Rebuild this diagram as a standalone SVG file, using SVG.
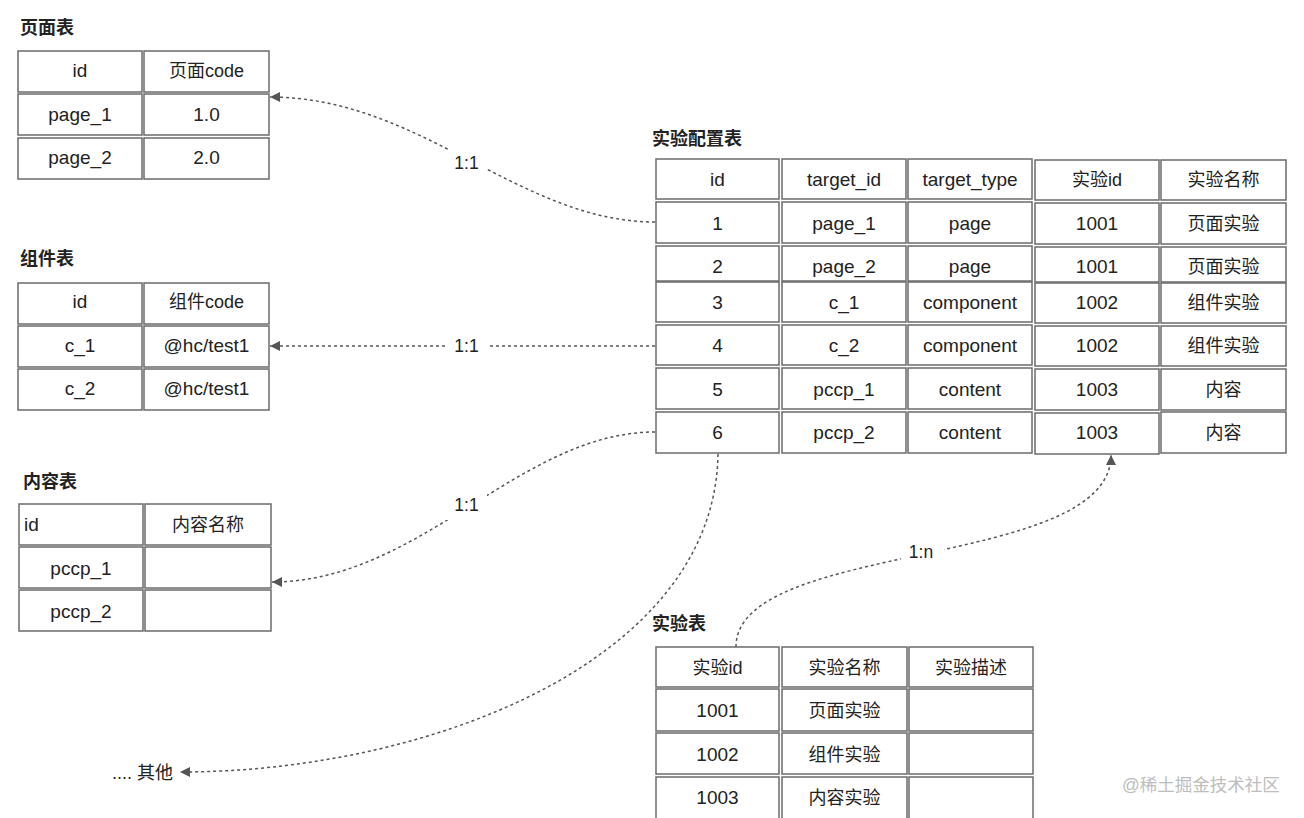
<svg xmlns="http://www.w3.org/2000/svg" width="1304" height="818" viewBox="0 0 1304 818">
<style>
  text { font-family: "Liberation Sans", "Noto Sans CJK SC", sans-serif; fill: #222; }
  .t { font-size: 18px; text-anchor: middle; }
  .l { font-size: 19px; }
  .title { font-size: 18px; font-weight: bold; }
  .cell { fill: #fff; stroke: #6b6b6b; stroke-width: 1.5; }
  .conn { fill: none; stroke: #555; stroke-width: 1.5; stroke-dasharray: 3 3; }
  .lbl { font-size: 17.5px; text-anchor: middle; }
  .gap { fill: #fff; stroke: none; }
</style>
<defs>
  <marker id="arrow" viewBox="0 0 10 10" refX="10" refY="5" markerWidth="10" markerHeight="10" markerUnits="userSpaceOnUse" orient="auto">
    <path d="M0,0 L10,5 L0,10 z" fill="#555"/>
  </marker>
</defs>
<rect width="1304" height="818" fill="#fff"/>

<g id="connectors">
  <path class="conn" d="M655,222 C520,222 420,97 270,97" marker-end="url(#arrow)"/>
  <rect class="gap" x="446" y="150" width="41" height="25"/>
  <text class="lbl" x="466.5" y="168.5">1:1</text>

  <path class="conn" d="M655,346 L270,346" marker-end="url(#arrow)"/>
  <rect class="gap" x="446" y="333" width="41" height="25"/>
  <text class="lbl" x="466.5" y="351.5">1:1</text>

  <path class="conn" d="M655,432 C520,432 420,582 272,582" marker-end="url(#arrow)"/>
  <rect class="gap" x="446" y="491" width="41" height="29"/>
  <text class="lbl" x="466.5" y="511">1:1</text>

  <path class="conn" d="M718,454 C715,660 430,772 180,772" marker-end="url(#arrow)"/>

  <path class="conn" d="M736,647 C736,540 1111,570 1111,455" marker-end="url(#arrow)"/>
  <rect class="gap" x="901" y="539" width="43" height="25"/>
  <text class="lbl" x="921" y="558">1:n</text>
</g>

<g id="page-table">
  <text class="title" x="20" y="34">页面表</text>
  <rect class="cell" x="18" y="51" width="124" height="41"/>
  <rect class="cell" x="144" y="51" width="125" height="41"/>
  <rect class="cell" x="18" y="94" width="124" height="41"/>
  <rect class="cell" x="144" y="94" width="125" height="41"/>
  <rect class="cell" x="18" y="138" width="124" height="41"/>
  <rect class="cell" x="144" y="138" width="125" height="41"/>
  <text class="t l" x="80" y="77">id</text>
  <text class="t" x="206.5" y="77">页面code</text>
  <text class="t l" x="80" y="121">page_1</text>
  <text class="t l" x="206.5" y="121">1.0</text>
  <text class="t l" x="80" y="164">page_2</text>
  <text class="t l" x="206.5" y="164">2.0</text>
</g>

<g id="component-table">
  <text class="title" x="20" y="265">组件表</text>
  <rect class="cell" x="18" y="283" width="124" height="41"/>
  <rect class="cell" x="144" y="283" width="125" height="41"/>
  <rect class="cell" x="18" y="326" width="124" height="41"/>
  <rect class="cell" x="144" y="326" width="125" height="41"/>
  <rect class="cell" x="18" y="369" width="124" height="41"/>
  <rect class="cell" x="144" y="369" width="125" height="41"/>
  <text class="t l" x="80" y="308">id</text>
  <text class="t" x="206.5" y="308">组件code</text>
  <text class="t l" x="80" y="352">c_1</text>
  <text class="t l" x="206.5" y="352">@hc/test1</text>
  <text class="t l" x="80" y="395">c_2</text>
  <text class="t l" x="206.5" y="395">@hc/test1</text>
</g>

<g id="content-table">
  <text class="title" x="23" y="488">内容表</text>
  <rect class="cell" x="19" y="504" width="124" height="41"/>
  <rect class="cell" x="145" y="504" width="126" height="41"/>
  <rect class="cell" x="19" y="547" width="124" height="41"/>
  <rect class="cell" x="145" y="547" width="126" height="41"/>
  <rect class="cell" x="19" y="590" width="124" height="41"/>
  <rect class="cell" x="145" y="590" width="126" height="41"/>
  <text x="24" y="531" style="font-size:19px">id</text>
  <text class="t" x="208" y="531">内容名称</text>
  <text class="t l" x="81" y="575">pccp_1</text>
  <text class="t l" x="81" y="618">pccp_2</text>
</g>

<g id="experiment-config-table">
  <text class="title" x="652" y="145">实验配置表</text>
  <g>
    <rect class="cell" x="656" y="159" width="123" height="40"/>
    <rect class="cell" x="782" y="159" width="124" height="40"/>
    <rect class="cell" x="908" y="159" width="124" height="40"/>
    <rect class="cell" x="1035" y="160" width="124" height="40"/>
    <rect class="cell" x="1161" y="160" width="125" height="40"/>

    <rect class="cell" x="656" y="202" width="123" height="41"/>
    <rect class="cell" x="782" y="202" width="124" height="41"/>
    <rect class="cell" x="908" y="202" width="124" height="41"/>
    <rect class="cell" x="1035" y="203" width="124" height="41"/>
    <rect class="cell" x="1161" y="203" width="125" height="41"/>

    <rect class="cell" x="656" y="246" width="123" height="35"/>
    <rect class="cell" x="782" y="246" width="124" height="35"/>
    <rect class="cell" x="908" y="246" width="124" height="35"/>
    <rect class="cell" x="1035" y="247" width="124" height="35"/>
    <rect class="cell" x="1161" y="247" width="125" height="35"/>

    <rect class="cell" x="656" y="282" width="123" height="40"/>
    <rect class="cell" x="782" y="282" width="124" height="40"/>
    <rect class="cell" x="908" y="282" width="124" height="40"/>
    <rect class="cell" x="1035" y="283" width="124" height="40"/>
    <rect class="cell" x="1161" y="283" width="125" height="40"/>

    <rect class="cell" x="656" y="325" width="123" height="40"/>
    <rect class="cell" x="782" y="325" width="124" height="40"/>
    <rect class="cell" x="908" y="325" width="124" height="40"/>
    <rect class="cell" x="1035" y="326" width="124" height="40"/>
    <rect class="cell" x="1161" y="326" width="125" height="40"/>

    <rect class="cell" x="656" y="368" width="123" height="41"/>
    <rect class="cell" x="782" y="368" width="124" height="41"/>
    <rect class="cell" x="908" y="368" width="124" height="41"/>
    <rect class="cell" x="1035" y="369" width="124" height="41"/>
    <rect class="cell" x="1161" y="369" width="125" height="41"/>

    <rect class="cell" x="656" y="412" width="123" height="41"/>
    <rect class="cell" x="782" y="412" width="124" height="41"/>
    <rect class="cell" x="908" y="412" width="124" height="41"/>
    <rect class="cell" x="1035" y="413" width="124" height="41"/>
    <rect class="cell" x="1161" y="412" width="125" height="41"/>
  </g>
  <text class="t l" x="717.5" y="186">id</text>
  <text class="t l" x="844" y="186">target_id</text>
  <text class="t l" x="970" y="186">target_type</text>
  <text class="t" x="1097" y="186">实验id</text>
  <text class="t" x="1223.5" y="186">实验名称</text>

  <text class="t l" x="717.5" y="230">1</text>
  <text class="t l" x="844" y="230">page_1</text>
  <text class="t l" x="970" y="230">page</text>
  <text class="t l" x="1097" y="230">1001</text>
  <text class="t" x="1223.5" y="230">页面实验</text>

  <text class="t l" x="717.5" y="273">2</text>
  <text class="t l" x="844" y="273">page_2</text>
  <text class="t l" x="970" y="273">page</text>
  <text class="t l" x="1097" y="273">1001</text>
  <text class="t" x="1223.5" y="273">页面实验</text>

  <text class="t l" x="717.5" y="308.5">3</text>
  <text class="t l" x="844" y="308.5">c_1</text>
  <text class="t l" x="970" y="308.5">component</text>
  <text class="t l" x="1097" y="308.5">1002</text>
  <text class="t" x="1223.5" y="308.5">组件实验</text>

  <text class="t l" x="717.5" y="352">4</text>
  <text class="t l" x="844" y="352">c_2</text>
  <text class="t l" x="970" y="352">component</text>
  <text class="t l" x="1097" y="352">1002</text>
  <text class="t" x="1223.5" y="352">组件实验</text>

  <text class="t l" x="717.5" y="395.5">5</text>
  <text class="t l" x="844" y="395.5">pccp_1</text>
  <text class="t l" x="970" y="395.5">content</text>
  <text class="t l" x="1097" y="395.5">1003</text>
  <text class="t" x="1223.5" y="395.5">内容</text>

  <text class="t l" x="717.5" y="439">6</text>
  <text class="t l" x="844" y="439">pccp_2</text>
  <text class="t l" x="970" y="439">content</text>
  <text class="t l" x="1097" y="439">1003</text>
  <text class="t" x="1223.5" y="439">内容</text>
</g>

<g id="experiment-table">
  <text class="title" x="652" y="630">实验表</text>
  <rect class="cell" x="656" y="647" width="123" height="40"/>
  <rect class="cell" x="782" y="647" width="125" height="40"/>
  <rect class="cell" x="909" y="647" width="124" height="40"/>
  <rect class="cell" x="656" y="689" width="123" height="42"/>
  <rect class="cell" x="782" y="689" width="125" height="42"/>
  <rect class="cell" x="909" y="689" width="124" height="42"/>
  <rect class="cell" x="656" y="733" width="123" height="41"/>
  <rect class="cell" x="782" y="733" width="125" height="41"/>
  <rect class="cell" x="909" y="733" width="124" height="41"/>
  <rect class="cell" x="656" y="777" width="123" height="44"/>
  <rect class="cell" x="782" y="777" width="125" height="44"/>
  <rect class="cell" x="909" y="777" width="124" height="44"/>
  <text class="t" x="717.5" y="674">实验id</text>
  <text class="t" x="844.5" y="674">实验名称</text>
  <text class="t" x="971" y="674">实验描述</text>
  <text class="t l" x="717.5" y="717">1001</text>
  <text class="t" x="844.5" y="717">页面实验</text>
  <text class="t l" x="717.5" y="761">1002</text>
  <text class="t" x="844.5" y="761">组件实验</text>
  <text class="t l" x="717.5" y="804">1003</text>
  <text class="t" x="844.5" y="804">内容实验</text>
</g>

<g id="other">
  <text x="112" y="779" style="font-size:18px">.... 其他</text>
</g>

<text x="1122" y="791" style="font-size:17.5px; fill:#bdbdbd">@稀土掘金技术社区</text>
</svg>
